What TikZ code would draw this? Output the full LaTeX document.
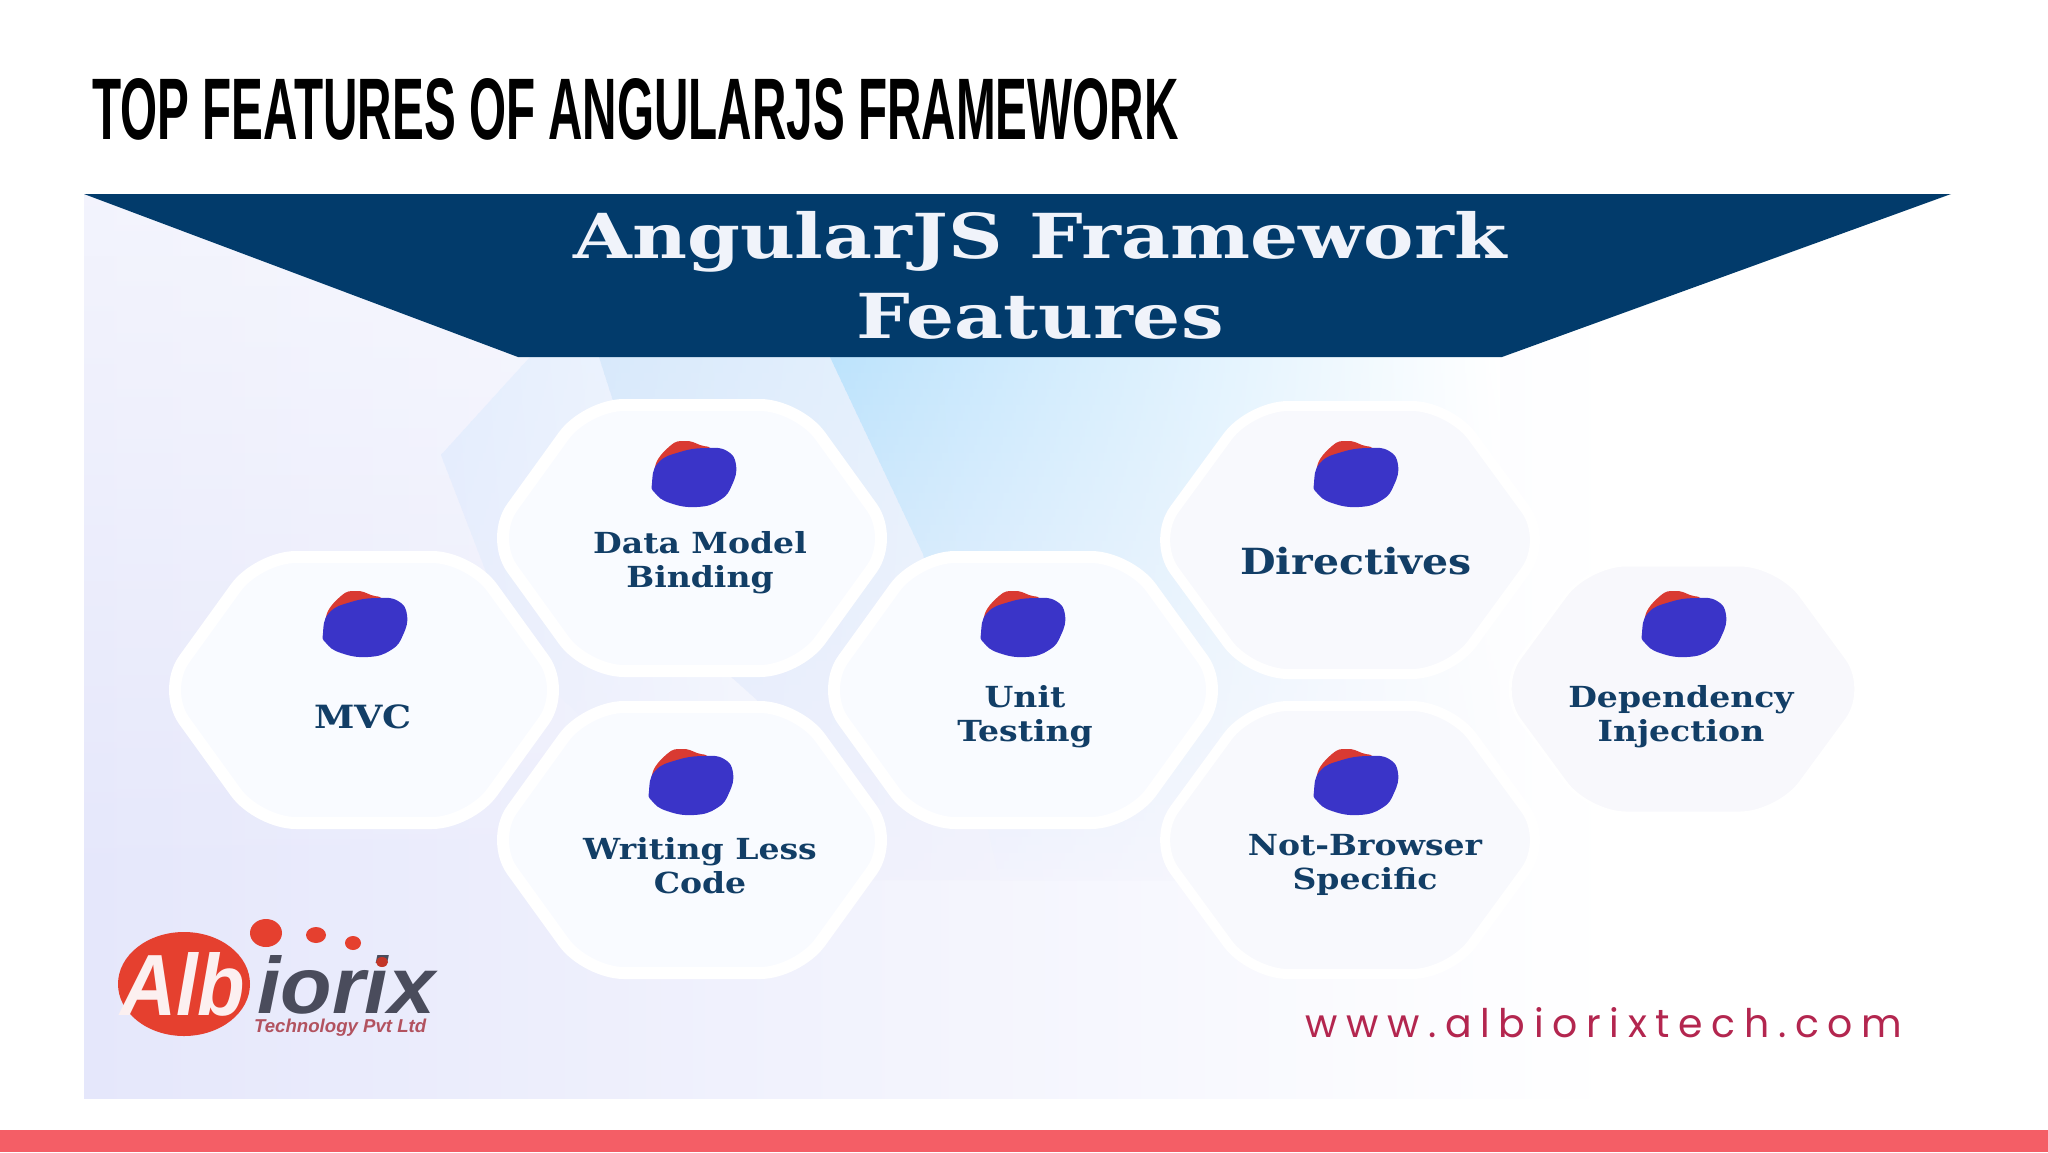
\documentclass[tikz,border=0pt]{standalone}
\usepackage{fontspec}
\usepackage{graphicx}
\usetikzlibrary{fadings,calc}
\setmainfont{Liberation Sans}
\newfontfamily\titlef{Liberation Sans}
\newfontfamily\headf[FakeStretch=1.22]{DejaVu Serif}
\newfontfamily\labf[FakeStretch=1.14]{DejaVu Serif}
\newfontfamily\urlf[LetterSpace=22]{Poppins}
\definecolor{navy}{HTML}{023B6B}
\definecolor{labcol}{HTML}{123E66}
\definecolor{barred}{HTML}{F45E66}
\definecolor{blobblue}{HTML}{3A34C8}
\definecolor{blobred}{HTML}{D93A32}
\definecolor{logored}{HTML}{E5402F}
\definecolor{logogrey}{HTML}{4A4C5C}
\definecolor{logosub}{HTML}{B2525F}
\definecolor{urlred}{HTML}{B3264F}
\definecolor{hfill}{HTML}{F9FBFF}
\definecolor{hfillb}{HTML}{F8F9FD}
\definecolor{hfillc}{HTML}{F8F8FC}
\definecolor{panelL}{HTML}{E5E7FB}
\definecolor{panelM}{HTML}{EDECFB}
\definecolor{headtext}{HTML}{F0F3FA}
\definecolor{logotext}{HTML}{FCF0F0}
\definecolor{bgL}{HTML}{ECECFB}
\definecolor{bgM}{HTML}{F0F0FC}
\definecolor{bgR}{HTML}{FAFBFE}
\definecolor{topC}{HTML}{E3EDFD}
\definecolor{topA}{HTML}{D8E9FB}
\definecolor{topB}{HTML}{BDE3FC}
\tikzset{
  hexleft/.style={draw=white,line width=12pt,fill=hfill},
  hexright/.style={draw=white,line width=10pt,fill=hfillb},
  hexfaint/.style={draw=white,line width=3pt,fill=hfillc},
  cell/.style={font=\labf\bfseries\fontsize{29}{34}\selectfont,text=labcol,align=center,inner sep=0pt,anchor=base},
  cellbig/.style={font=\labf\bfseries\fontsize{32}{34}\selectfont,text=labcol,align=center,inner sep=0pt,anchor=base},
  celldir/.style={font=\labf\bfseries\fontsize{36}{34}\selectfont,text=labcol,align=center,inner sep=0pt,anchor=base},
  rawtext/.style={inner sep=0pt,anchor=base west},
}
\newcommand\hexcell[7]{% name cx cy halfwidth halfheight tophalf style
  \coordinate (#1) at (#2,#3);
  \draw[#7,shift={(#1)},rounded corners=38pt]
    (-#4,0) -- (-#6,-#5) -- (#6,-#5) -- (#4,0) -- (#6,#5) -- (-#6,#5) -- cycle;
}
\newcommand\blobmark[2]{%
  \fill[blobred,shift={(#1,#2)}] plot[smooth cycle,tension=0.8] coordinates
    {(-39,-11) (-24,-32) (-9,-37) (6,-33) (18,-26) (10,0) (-30,5)};
  \fill[blobblue,shift={(#1,#2)}] plot[smooth cycle,tension=0.8] coordinates
    {(-42,5) (-36,-15) (-14,-26) (13,-30) (33,-27) (42,-13) (38,7) (26,22) (3,29) (-24,25) (-39,15)};
}
% rows of horizontal shading that fade downward: x0 x1 ytop rows topcolour bottomleftcolour
\newcommand\bandrows[6]{%
  \foreach \r in {0,...,#4}{%
    \pgfmathtruncatemacro\p{100*\r/#4}%
    \pgfmathsetmacro\ya{#3+\r*8}%
    \pgfmathsetmacro\yb{#3+\r*8+9}%
    \shade[left color=#6!\p!#5,right color=bgR!\p!white] (#1,\ya) rectangle (#2,\yb);
  }%
}
\begin{document}
\begin{tikzpicture}[x=1pt,y=-1pt]
\useasboundingbox (0,0) rectangle (2048,1152);
\fill[white] (0,0) rectangle (2048,1152);
% panel
\fill[left color=panelL,middle color=panelM,right color=white] (84,194) rectangle (1620,1098);
\fill[white,fill opacity=0.55,path fading=south] (84,194) rectangle (1951,900);
% back shapes
\begin{scope}
  \clip (530,357) -- (441,455) -- (520,660) -- (760,880) -- (1000,880) -- (1000,357) -- cycle;
  \bandrows{441}{1000}{357}{65}{topC}{bgL}
\end{scope}
\begin{scope}
  \clip (599,357) -- (690,640) -- (757,700) -- (800,880) -- (1500,880) -- (1500,357) -- cycle;
  \bandrows{599}{1500}{357}{65}{topA}{bgL}
\end{scope}
\begin{scope}
  \clip (830,357) -- (923,554) -- (1000,880) -- (1500,880) -- (1500,357) -- cycle;
  \bandrows{830}{1500}{357}{65}{topB}{bgM}
\end{scope}
% header
\fill[navy] (84,194) -- (1951,194) -- (1502,357) -- (518,357) -- cycle;
\node[font=\headf\bfseries\fontsize{62}{80}\selectfont,text=headtext,align=center,inner sep=0pt,anchor=base]
  (paneltitle) at (1040,338) {AngularJS Framework\\Features};
% title
\node[rawtext] (pagetitle) at (92,139)
  {\resizebox{1086pt}{61pt}{\titlef\bfseries TOP FEATURES OF ANGULARJS FRAMEWORK}};
% hexagons
\hexcell{hmvc}{364}{690}{202}{133}{106}{hexleft}
\hexcell{hdata}{692}{538}{202}{133}{106}{hexleft}
\hexcell{hwrite}{692}{840}{202}{133}{106}{hexleft}
\hexcell{hunit}{1023}{690}{202}{133}{106}{hexleft}
\hexcell{hdir}{1350}{540}{198}{134}{100}{hexright}
\hexcell{hnot}{1350}{840}{198}{134}{100}{hexright}
\hexcell{hdep}{1683}{689}{186}{124}{95}{hexfaint}
% blobs
\blobmark{365}{628}
\blobmark{694}{478}
\blobmark{691}{786}
\blobmark{1023}{628}
\blobmark{1356}{478}
\blobmark{1356}{786}
\blobmark{1684}{628}
% labels
\node[cellbig] (tmvc) at (363,728) {MVC};
\node[cell] (tdata) at (700,587) {Data Model\\Binding};
\node[cell] (twrite) at (700,893) {Writing Less\\Code};
\node[cell] (tunit) at (1025,741) {Unit\\Testing};
\node[celldir] (tdir) at (1356,574) {Directives};
\node[cell] (tnot) at (1365,889) {Not-Browser\\Specific};
\node[cell] (tdep) at (1681,741) {Dependency\\Injection};
% logo
\fill[logored] (184,984) ellipse [x radius=66,y radius=52];
\node[rawtext,text=logotext] (logoa) at (120,1015)
  {\resizebox{125pt}{63pt}{\bfseries\itshape Alb}};
\node[rawtext,text=logogrey] (logob) at (257,1013)
  {\resizebox{178pt}{58pt}{\bfseries\itshape iorix}};
\node[rawtext,text=logosub] (logoc) at (254,1032)
  {\resizebox{172pt}{!}{\bfseries\itshape Technology Pvt Ltd}};
\fill[logored] (266,933) ellipse [x radius=16,y radius=14];
\fill[logored] (316,935) ellipse [x radius=10,y radius=8];
\fill[logored] (353,943) ellipse [x radius=8,y radius=7];
\fill[logored!85!black] (382,962) ellipse [x radius=6,y radius=5];
% url
\node[rawtext,text=urlred] (urltext) at (1305,1037)
  {\resizebox{597pt}{!}{\urlf www.albiorixtech.com}};
% bar
\fill[barred] (0,1130) rectangle (2048,1152);
\end{tikzpicture}
\end{document}
